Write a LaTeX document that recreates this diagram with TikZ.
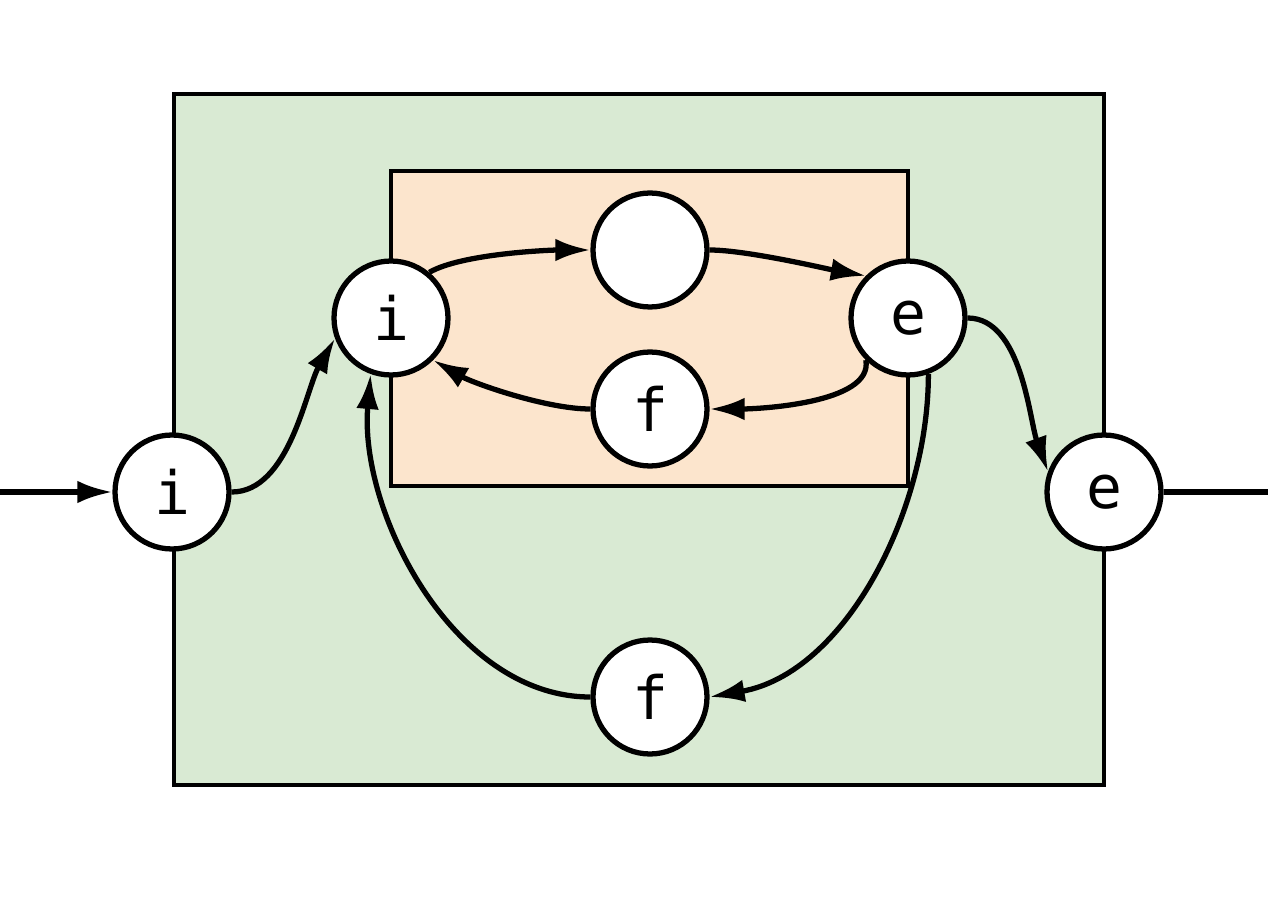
\documentclass[tikz,border=0pt]{standalone}
\usepackage{fontspec}
\setmonofont{DejaVu Sans Mono}
\usetikzlibrary{arrows.meta}
\definecolor{outerfill}{HTML}{D9EAD3}
\definecolor{innerfill}{HTML}{FCE5CD}
\begin{document}
\begin{tikzpicture}
    [
        x=0.02cm, y=-0.02cm, line width=3pt,
        state_style/.style={circle, draw=black, fill=white, minimum size=2.28cm, inner sep=0pt, font=\ttfamily\fontsize{34}{34}\selectfont},
        box_style/.style={draw=black, line width=1.8pt},
        edge_style/.style={draw=black, -{Latex[length=0.7cm, width=0.45cm]}}
    ]
        \useasboundingbox (0,0) rectangle (1268,898);
        \draw[box_style, fill=outerfill] (174,94) rectangle (1104,785);
        \draw[box_style, fill=innerfill] (391,171) rectangle (908,486);

        \node[state_style] (oi) at (172,492) {i};
        \node[state_style] (ii) at (391,318) {i};
        \node[state_style] (mid) at (650,250) {};
        \node[state_style] (if) at (650,409) {f};
        \node[state_style] (ie) at (908,318) {e};
        \node[state_style] (oe) at (1104,492) {e};
        \node[state_style] (of) at (650,697) {f};
        \coordinate (start) at (0,492);
        \coordinate (stop) at (1268,492);

        \draw[edge_style] (start) -- (oi);
        \draw (oe) -- (stop);
        \draw[edge_style] (oi.east) to[out=0, in=240, looseness=0.8] (ii.200);
        \draw[edge_style] (ii.50) to[out=30, in=180, looseness=0.6] (mid.west);
        \draw[edge_style] (mid.east) to[out=0, in=170, looseness=0.6] (ie.135);
        \draw[edge_style] (ie.225) to[out=-80, in=0, looseness=0.7] (if.east);
        \draw[edge_style] (if.west) to[out=180, in=-30, looseness=0.7] (ii.315);
        \draw[edge_style] (ie.east) to[out=0, in=110, looseness=0.8] (oe.160);
        \draw[edge_style] (ie.290) to[out=-90, in=10, looseness=0.9] (of.east);
        \draw[edge_style] (of.west) to[out=180, in=-95, looseness=0.9] (ii.250);
\end{tikzpicture}
\end{document}
